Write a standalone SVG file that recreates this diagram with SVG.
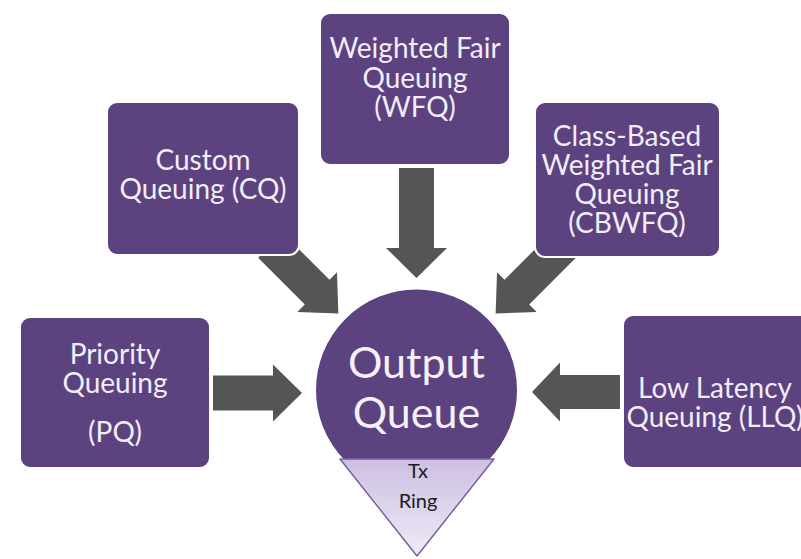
<svg xmlns="http://www.w3.org/2000/svg" width="801" height="559" viewBox="0 0 801 559">
  <defs>
    <linearGradient id="ringFill" x1="0" y1="0" x2="0" y2="1">
      <stop offset="0" stop-color="#cdbfe2"/>
      <stop offset="1" stop-color="#efeaf6"/>
    </linearGradient>
    <style>
      .box { fill: #5d4280; stroke: #ffffff; stroke-width: 2; }
      .lbl { font-family: Lato, "Open Sans", "Liberation Sans", sans-serif; font-size: 28px; fill: #f1edf6; text-anchor: middle; }
      .big { font-family: Lato, "Open Sans", "Liberation Sans", sans-serif; font-size: 43px; fill: #f4f1f8; text-anchor: middle; }
      .ring { font-family: Lato, "Open Sans", "Liberation Sans", sans-serif; font-size: 20px; fill: #1e1a24; text-anchor: middle; }
      .arrow { fill: #555555; }
    </style>
  </defs>

  <rect width="801" height="559" fill="#ffffff"/>

  <!-- block arrows pointing into the output queue -->
  <g id="connectors">
    <!-- PQ -> output -->
    <path class="arrow" transform="translate(213,393)" d="M0,-17.5 H60 V-28.5 L89,0 L60,28.5 V17.5 H0 Z"/>
    <!-- LLQ -> output -->
    <path class="arrow" transform="translate(620,392) rotate(180)" d="M0,-17 H60 V-29.5 L88,0 L60,29.5 V17 H0 Z"/>
    <!-- WFQ -> output -->
    <path class="arrow" transform="translate(416.5,168) rotate(90)" d="M0,-17.5 H80 V-30.5 L110,0 L80,30.5 V17.5 H0 Z"/>
    <!-- CQ -> output -->
    <path class="arrow" transform="translate(270.5,245.5) rotate(45)" d="M0,-17.5 H66 V-28 L96,0 L66,28 V17.5 H0 Z"/>
    <!-- CBWFQ -> output -->
    <path class="arrow" transform="translate(563.5,245.5) rotate(135)" d="M0,-17.5 H66 V-28 L96,0 L66,28 V17.5 H0 Z"/>
  </g>

  <g id="node-wfq">
    <rect class="box" x="320" y="13" width="190" height="152" rx="10"/>
    <text class="lbl" x="415" y="58">Weighted Fair</text>
    <text class="lbl" x="415" y="88">Queuing</text>
    <text class="lbl" x="415" y="117">(WFQ)</text>
  </g>

  <g id="node-cq">
    <rect class="box" x="107" y="102" width="192" height="153" rx="10"/>
    <text class="lbl" x="203" y="170">Custom</text>
    <text class="lbl" x="203" y="199">Queuing (CQ)</text>
  </g>

  <g id="node-cbwfq">
    <rect class="box" x="535" y="102" width="185" height="155" rx="10"/>
    <text class="lbl" x="627" y="146">Class-Based</text>
    <text class="lbl" x="627" y="175">Weighted Fair</text>
    <text class="lbl" x="627" y="204">Queuing</text>
    <text class="lbl" x="627" y="233">(CBWFQ)</text>
  </g>

  <g id="node-pq">
    <rect class="box" x="20" y="317" width="190" height="151" rx="10"/>
    <text class="lbl" x="115" y="364">Priority</text>
    <text class="lbl" x="115" y="393">Queuing</text>
    <text class="lbl" x="115" y="442">(PQ)</text>
  </g>

  <g id="node-llq">
    <rect class="box" x="623" y="315" width="200" height="153" rx="10"/>
    <text class="lbl" x="715" y="398">Low Latency</text>
    <text class="lbl" x="715" y="427">Queuing (LLQ)</text>
  </g>

  <g id="node-output">
    <circle cx="416.5" cy="390" r="101.5" fill="#5d4280" stroke="#ffffff" stroke-width="2"/>
    <text class="big" x="416.5" y="378">Output</text>
    <text class="big" x="416.5" y="428">Queue</text>
  </g>

  <g id="node-txring">
    <path d="M340,459 H494 L417,556 Z" fill="url(#ringFill)" stroke="#7c5fa0" stroke-width="1.5" stroke-linejoin="round"/>
    <text class="ring" x="418" y="478">Tx</text>
    <text class="ring" x="418" y="508">Ring</text>
  </g>
</svg>
